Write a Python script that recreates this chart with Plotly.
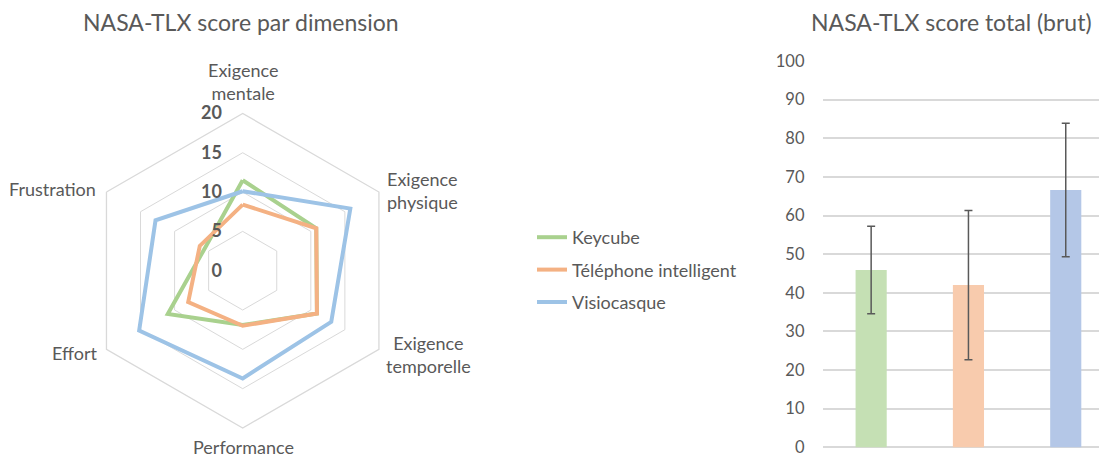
import plotly.graph_objects as go

dimensions = ['Exigence mentale', 'Exigence physique', 'Exigence temporelle',
              'Performance', 'Effort', 'Frustration']
dimension_labels = ['Exigence<br>mentale', 'Exigence<br>physique', 'Exigence<br>temporelle',
                    'Performance', 'Effort', 'Frustration']
keycube = [11.5, 10.8, 10.9, 6.9, 11.0, 5.6]
telephone = [8.4, 10.8, 10.9, 7.0, 8.0, 6.3]
visiocasque = [10.1, 15.8, 13.0, 13.7, 15.2, 12.8]

devices = ['Keycube', 'Téléphone intelligent', 'Visiocasque']
total_means = [45.9, 42.0, 66.6]
total_err = [11.3, 19.3, 17.3]

line_colors = ['#a9d18e', '#f4b183', '#9dc3e6']
bar_colors = ['#c5e0b4', '#f8cbad', '#b4c7e7']
txt = '#595959'
grid = '#d9d9d9'
font_family = 'Lato, Open Sans, sans-serif'

# page body has an 8px margin, so the figure is 8px smaller than the window
W, H = 1099, 449

fig = go.Figure()

for name, vals, col in zip(devices, [keycube, telephone, visiocasque], line_colors):
    fig.add_trace(go.Scatterpolar(
        r=vals + vals[:1], theta=dimensions + dimensions[:1], mode='lines', name=name,
        legendgroup=name, line=dict(color=col, width=4), subplot='polar'))

fig.add_trace(go.Bar(
    x=[0, 1, 2], y=total_means, width=0.32, marker=dict(color=bar_colors, line_width=0),
    error_y=dict(type='data', array=total_err, color=txt, thickness=1.5, width=4),
    showlegend=False, xaxis='x', yaxis='y'))

# angular labels placed by hand: (x, y, xanchor)
label_pos = [(234.5, 73.5, 'center'), (377, 182, 'left'), (420, 346, 'center'),
             (235, 439, 'center'), (91, 345, 'right'), (90, 181, 'right')]
annotations = []
for lab, (px, py, anc) in zip(dimension_labels, label_pos):
    annotations.append(dict(text=lab, x=px / W, y=1 - py / H, xref='paper', yref='paper',
                            showarrow=False, xanchor=anc, yanchor='middle',
                            align='left' if anc == 'left' else 'center',
                            font=dict(size=18, color=txt)))
annotations += [
    dict(text='NASA-TLX score par dimension', x=233 / W, y=1 - 14 / H,
         xref='paper', yref='paper', showarrow=False,
         font=dict(size=23, color=txt), xanchor='center', yanchor='middle'),
    dict(text='NASA-TLX score total (brut)', x=943 / W, y=1 - 14 / H,
         xref='paper', yref='paper', showarrow=False,
         font=dict(size=23, color=txt), xanchor='center', yanchor='middle'),
]

fig.update_layout(
    template='none',
    width=W, height=H,
    margin=dict(l=0, r=0, t=0, b=0, autoexpand=False),
    paper_bgcolor='white', plot_bgcolor='white',
    font=dict(family=font_family, color=txt, size=16),
    polar=dict(
        domain=dict(x=[77.4 / W, 392 / W], y=[29 / H, 343.6 / H]),
        bgcolor='white',
        gridshape='linear',
        radialaxis=dict(range=[0, 20], tickvals=[0, 5, 10, 15, 20], angle=90, tickangle=90,
                        showline=False, gridcolor=grid, gridwidth=1.3,
                        ticks='outside', ticklen=14, tickcolor='rgba(0,0,0,0)',
                        tickfont=dict(size=18, color=txt, weight='bold'),
                        side='counterclockwise'),
        angularaxis=dict(rotation=90, direction='clockwise', showgrid=False,
                         showline=True, linecolor=grid, linewidth=1.3,
                         ticks='', showticklabels=False),
    ),
    xaxis=dict(domain=[814.5 / W, 1.0], range=[-0.5, 2.424], showticklabels=False,
               showgrid=False, zeroline=False, showline=False, automargin=False),
    yaxis=dict(domain=[8.5 / H, 396 / H], range=[-0.3, 100], tickvals=list(range(0, 101, 10)),
               gridcolor=grid, gridwidth=1.5, zeroline=True, zerolinecolor=grid,
               zerolinewidth=1.5, showline=False, automargin=False,
               ticks='', tickfont=dict(size=16.5, color=txt), ticklabelstandoff=17,
               ticklabeloverflow='allow'),
    legend=dict(x=524 / W, y=1 - 211 / H, xanchor='left', yanchor='top',
                font=dict(size=18, color=txt), bgcolor='rgba(0,0,0,0)',
                itemwidth=30, tracegroupgap=6),
    annotations=annotations,
)

fig.write_html('out.html')
